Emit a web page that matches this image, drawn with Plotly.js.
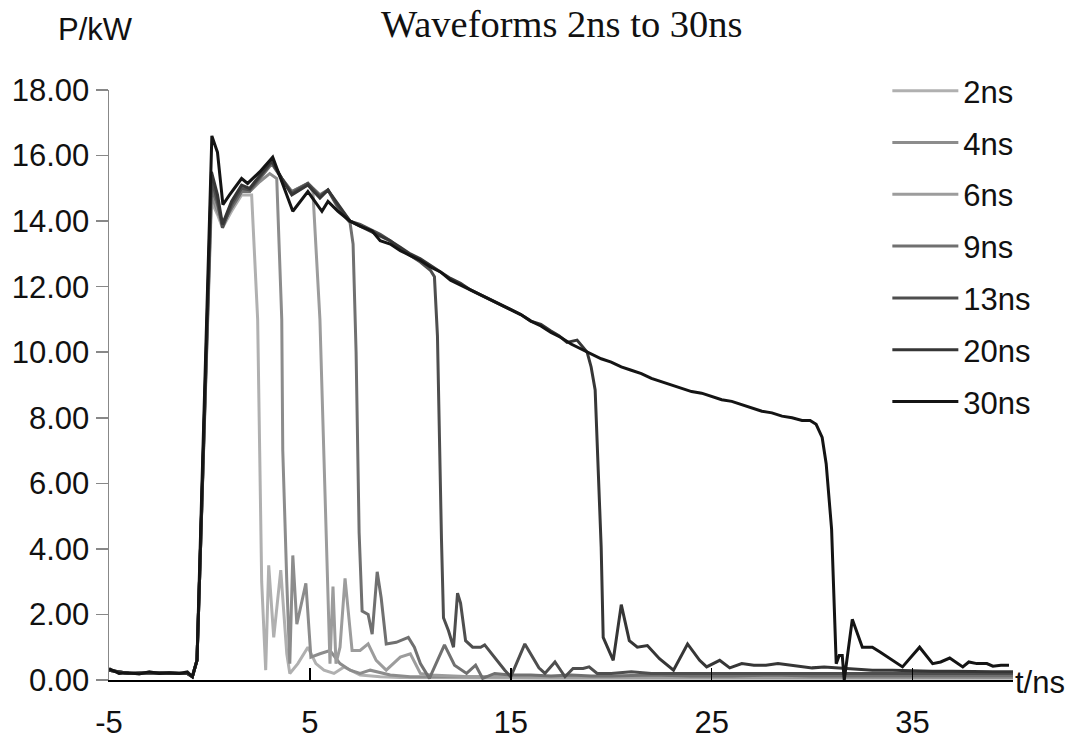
<!DOCTYPE html>
<html>
<head>
<meta charset="utf-8">
<script src="https://cdn.plot.ly/plotly-3.0.1.min.js"></script>
<style>html,body{margin:0;padding:0;background:#fff;}#chart{width:1072px;height:740px;}</style>
</head>
<body>
<div id="chart"></div>
<script>
// ---- data ----
var seriesNames = ['2ns', '4ns', '6ns', '9ns', '13ns', '20ns', '30ns'];
var seriesColors = ['#b0b0b0', '#8c8c8c', '#9c9c9c', '#707070', '#4e4e4e', '#363636', '#141414'];

var t2 = [-5,-4,-3,-2,-1.1,-0.85,-0.62,-0.47,0.1,0.4,0.65,1.1,1.6,2.1,2.4,2.5,2.6,2.8,2.95,3.2,3.55,3.85,4.0,4.4,4.9,5.3,5.7,6.2,6.7,7.5,8.5,9.5,11,13,15,17,19,22,25,28,31,34,37,40];
var p2 = [0.3,0.2,0.22,0.2,0.2,0.1,0.6,3.5,14.6,14.2,13.8,14.3,14.8,14.8,11,7,3,0.3,3.5,1.3,3.35,0.8,0.2,0.5,1.0,0.5,0.3,0.2,0.4,0.15,0.1,0.08,0.08,0.06,0.06,0.05,0.05,0.05,0.05,0.05,0.05,0.05,0.05,0.05];

var t4 = [-5,-4,-3,-2,-1.1,-0.85,-0.62,-0.47,0.1,0.4,0.65,1.1,1.6,2.0,2.5,3.0,3.35,3.6,3.65,3.85,4.0,4.15,4.35,4.8,5.05,5.5,6.0,6.5,7.0,7.5,8.0,9.0,10,11,13,15,17,19,22,25,28,31,34,37,40];
var p4 = [0.3,0.2,0.22,0.2,0.2,0.1,0.6,3.5,14.8,14.3,13.9,14.4,14.9,14.9,15.2,15.45,15.3,11,7,3,0.5,3.8,1.7,2.95,0.7,0.8,0.9,0.5,0.3,0.2,0.3,0.15,0.1,0.1,0.1,0.08,0.08,0.08,0.08,0.08,0.08,0.08,0.08,0.08,0.08];

var t6 = [-5,-4,-3,-2,-1.1,-0.85,-0.62,-0.47,0.1,0.4,0.65,1.1,1.6,2.0,2.5,3.1,3.6,4.1,4.9,5.15,5.5,5.7,5.9,6.0,6.15,6.3,6.5,6.75,7.1,7.5,7.9,8.3,8.8,9.5,10,10.5,11,12,13,15,17,19,22,25,28,31,34,37,40];
var p6 = [0.3,0.2,0.22,0.2,0.2,0.1,0.6,3.5,15.1,14.4,13.9,14.5,15.0,14.95,15.35,15.8,15.3,14.9,15.15,14.9,11,7,3,0.5,2.85,0.5,1.0,3.1,0.9,0.9,1.1,0.6,0.3,0.7,0.8,0.2,0.15,0.12,0.1,0.1,0.1,0.1,0.1,0.1,0.1,0.1,0.1,0.1,0.1];

var t9 = [-5,-4,-3,-2,-1.1,-0.85,-0.62,-0.47,0.1,0.4,0.65,1.1,1.6,2.0,2.5,3.1,3.6,4.1,4.9,5.5,5.9,6.4,7.0,7.15,7.3,7.45,7.6,7.9,8.1,8.35,8.55,8.8,9.3,9.9,10.2,10.5,10.95,11.7,12.2,12.8,13.25,13.6,14.2,15,16,17,18,19,20,22,24,26,28,30,32,34,36,38,40];
var p9 = [0.3,0.2,0.22,0.2,0.2,0.1,0.6,3.5,15.0,14.5,13.9,14.4,14.9,14.9,15.3,15.75,15.3,14.9,15.15,14.8,14.95,14.4,13.95,13.3,10,4.5,2.1,2.0,1.4,3.3,2.5,1.1,1.15,1.3,1.0,0.5,0.05,1.07,0.45,0.2,0.45,0.05,0.2,0.15,0.15,0.12,0.15,0.12,0.12,0.15,0.12,0.12,0.15,0.12,0.12,0.12,0.12,0.12,0.12];

var t13 = [-5,-4,-3,-2,-1.1,-0.85,-0.62,-0.47,0.1,0.4,0.65,1.1,1.6,2.0,2.5,3.1,3.6,4.1,4.9,5.5,5.9,6.4,7.0,7.5,8,8.5,9,9.5,10,10.5,11.0,11.2,11.35,11.45,11.55,11.65,11.9,12.15,12.35,12.5,12.75,13.1,13.5,13.7,14.1,14.4,14.7,15.0,15.7,16.4,16.7,17.2,17.7,18.1,18.6,18.9,19.3,20,21,22,23,24,25,26,27,28,29,30,31,32,33,34,35,36,37,38,39,40];
var p13 = [0.3,0.2,0.22,0.2,0.2,0.1,0.6,3.5,15.3,14.6,13.8,14.5,15.0,14.95,15.35,15.8,15.3,14.85,15.15,14.75,14.95,14.45,14.0,13.9,13.75,13.6,13.4,13.15,12.95,12.75,12.5,12.3,10.5,7.0,4.3,1.9,1.5,1.0,2.65,2.35,1.2,1.0,1.0,1.07,0.76,0.5,0.3,0.1,1.1,0.37,0.2,0.55,0.1,0.35,0.35,0.4,0.2,0.2,0.25,0.2,0.2,0.22,0.2,0.2,0.22,0.2,0.2,0.2,0.22,0.2,0.2,0.2,0.2,0.2,0.2,0.2,0.2,0.2];

var t20 = [-5,-4,-3,-2,-1.1,-0.85,-0.62,-0.47,0.1,0.4,0.65,1.1,1.6,2.0,2.5,3.1,3.6,4.1,4.9,5.5,5.9,6.4,7.0,7.5,8,8.5,9,9.5,10,10.5,11,11.5,12,12.5,13,13.5,14,14.5,15,15.5,16,16.5,17,17.4,17.8,18.3,18.8,19.0,19.2,19.3,19.5,19.6,20.1,20.5,20.9,21.3,21.8,22.4,23.1,23.8,24.4,24.75,25.4,25.9,26.5,27.1,27.7,28.3,28.9,29.5,30.0,30.6,31.4,32,33,34,35,36,37,38,39,40];
var p20 = [0.3,0.2,0.22,0.2,0.2,0.1,0.6,3.5,15.5,14.8,13.9,14.6,15.1,15.0,15.4,15.85,15.3,14.8,15.1,14.7,14.95,14.5,14.0,13.85,13.7,13.55,13.4,13.2,13.0,12.85,12.65,12.45,12.25,12.1,11.9,11.75,11.6,11.45,11.3,11.15,10.95,10.85,10.65,10.5,10.3,10.37,10.0,9.55,8.85,7.1,4.05,1.3,0.6,2.3,1.2,1.0,1.05,0.65,0.3,1.1,0.6,0.4,0.6,0.37,0.5,0.45,0.45,0.5,0.45,0.4,0.37,0.4,0.37,0.33,0.3,0.3,0.28,0.27,0.27,0.25,0.25,0.25];

var t30 = [-5,-4.5,-4,-3.5,-3,-2.5,-2,-1.5,-1.1,-0.85,-0.62,-0.47,0.12,0.4,0.67,1.0,1.6,1.9,2.5,3.15,3.6,4.15,4.9,5.6,5.9,6.4,7.0,7.5,8.1,8.5,9,9.5,10,10.5,11,11.5,12,12.5,13,13.5,14,14.5,15,15.5,16,16.5,17,17.5,18,18.5,19,19.5,20,20.5,21,21.5,22,22.5,23,23.5,24,24.5,25,25.5,26,26.5,27,27.5,28,28.5,29,29.5,29.9,30.2,30.5,30.7,30.97,31.1,31.2,31.35,31.5,31.6,31.75,32.0,32.5,33.0,33.4,34.0,34.5,35.35,36.0,36.4,36.85,37.5,37.8,38.2,38.7,39.0,39.4,39.8];
var p30 = [0.35,0.2,0.22,0.18,0.25,0.2,0.22,0.2,0.25,0.1,0.6,3.7,16.6,16.1,14.5,14.8,15.3,15.15,15.5,15.95,15.2,14.3,14.9,14.3,14.6,14.3,14.0,13.85,13.7,13.4,13.3,13.1,12.95,12.8,12.6,12.45,12.2,12.05,11.9,11.75,11.6,11.45,11.3,11.15,10.95,10.8,10.6,10.45,10.25,10.1,9.95,9.8,9.7,9.55,9.45,9.35,9.2,9.1,9.0,8.9,8.8,8.75,8.65,8.55,8.5,8.4,8.3,8.2,8.15,8.05,8.0,7.92,7.92,7.8,7.4,6.6,4.6,2.5,0.5,0.75,0.75,0.0,0.7,1.85,1.0,1.0,0.85,0.6,0.4,1.0,0.5,0.55,0.67,0.4,0.55,0.5,0.5,0.42,0.45,0.45];

var seriesT = [t2, t4, t6, t9, t13, t20, t30];
var seriesP = [p2, p4, p6, p9, p13, p20, p30];

var yTickVals = [0, 2, 4, 6, 8, 10, 12, 14, 16, 18];
var xTickVals = [-5, 5, 15, 25, 35];

// ---- chart ----
var FONT = 'Liberation Sans, Arial, sans-serif';
var traces = seriesNames.map(function (name, i) {
  return {
    type: 'scatter', mode: 'lines', name: name,
    x: seriesT[i], y: seriesP[i],
    legendgroup: 'g' + i,
    line: {color: seriesColors[i], width: 3},
    hoverinfo: 'skip'
  };
});

var layout = {
  width: 1072, height: 740,
  paper_bgcolor: '#ffffff', plot_bgcolor: '#ffffff',
  margin: {l: 109, r: 59, t: 90, b: 60},
  showlegend: true,
  title: {
    text: 'Waveforms 2ns to 30ns',
    font: {family: 'Liberation Serif, Times New Roman, serif', size: 38.5, color: '#111'},
    x: 0.524, xanchor: 'center', xref: 'container',
    y: 0.968, yanchor: 'middle', yref: 'container'
  },
  xaxis: {
    range: [-5, 40], tickvals: xTickVals, ticktext: xTickVals.map(String),
    ticks: 'inside', ticklen: 12, tickwidth: 1.5, tickcolor: '#000',
    showline: true, linecolor: '#000', linewidth: 2,
    showgrid: false, zeroline: false,
    tickfont: {family: FONT, size: 31, color: '#111'},
    ticklabelstandoff: 14
  },
  yaxis: {
    range: [0, 18], tickvals: yTickVals, ticktext: yTickVals.map(function (v) { return v.toFixed(2); }),
    ticks: 'outside', ticklen: 12, tickwidth: 1.5, tickcolor: '#888',
    showline: true, linecolor: '#888', linewidth: 1.5,
    showgrid: false, zeroline: false,
    tickfont: {family: FONT, size: 31, color: '#111'}
  },
  legend: {
    x: 0.861, xanchor: 'left', y: 1.044, yanchor: 'top',
    font: {family: FONT, size: 31, color: '#111'},
    bgcolor: 'rgba(0,0,0,0)', borderwidth: 0,
    traceorder: 'grouped', tracegroupgap: 8.5, itemwidth: 66
  },
  annotations: [
    {text: 'P/kW', xref: 'paper', yref: 'paper', x: -0.0144, y: 1.1017, xanchor: 'center', yanchor: 'middle',
     showarrow: false, font: {family: FONT, size: 31, color: '#111'}},
    {text: 't/ns', xref: 'paper', yref: 'paper', x: 1.0, y: -0.005, xanchor: 'left', yanchor: 'middle',
     showarrow: false, font: {family: FONT, size: 31, color: '#111'}}
  ]
};

Plotly.newPlot('chart', traces, layout, {displayModeBar: false, staticPlot: true});
</script>
</body>
</html>
